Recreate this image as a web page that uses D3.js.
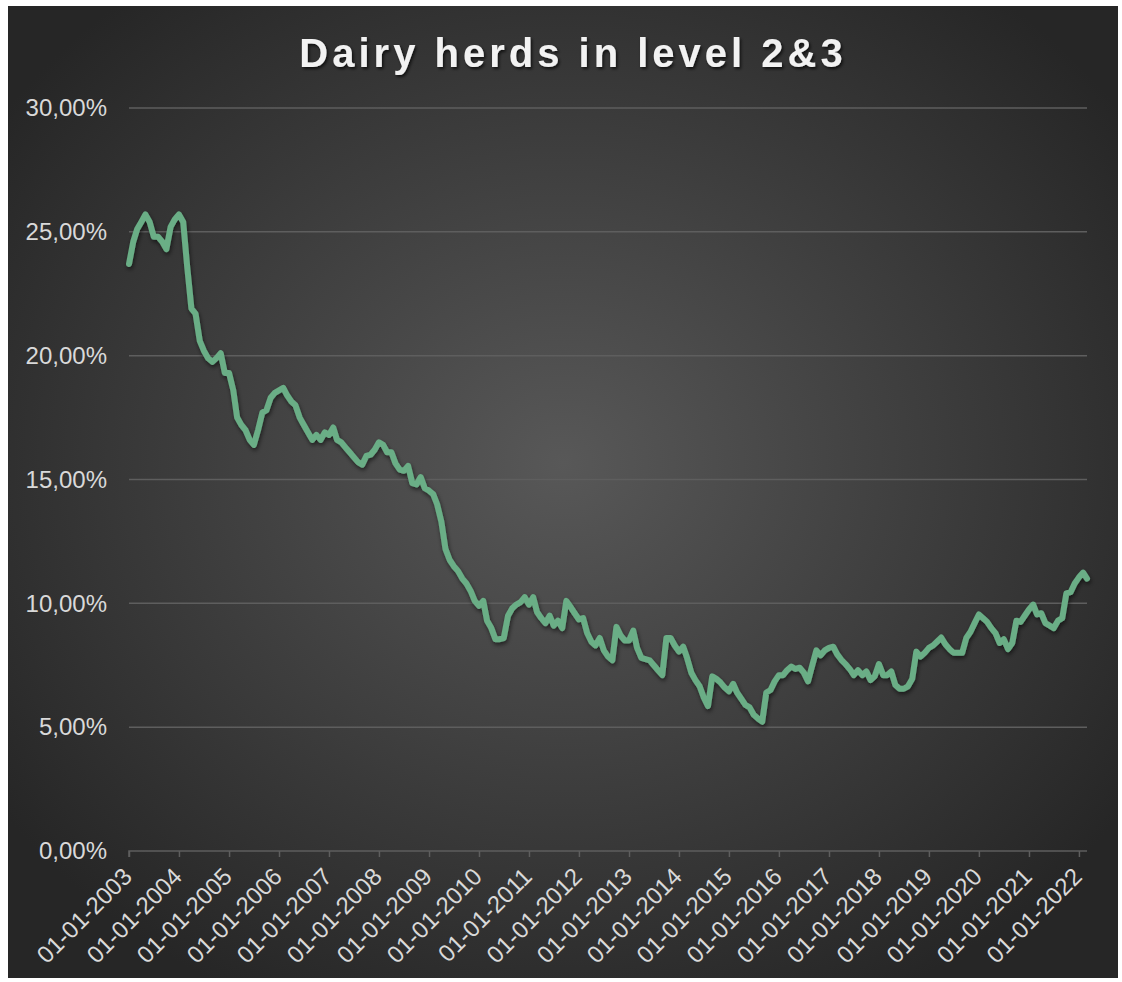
<!DOCTYPE html>
<html>
<head>
<meta charset="utf-8">
<script src="https://cdn.jsdelivr.net/npm/d3@7"></script>
<style>
  body { margin: 0; background: #ffffff; }
  svg { display: block; }
</style>
</head>
<body>
<div id="chart"></div>
<script>
const chartTitle = "Dairy herds in level 2&3";

// monthly share of herds in level 2&3 (%), first value = January 2003
const firstMonth = "2003-01-01";
const shareValues = [
  23.7, 24.6, 25.1, 25.4, 25.7, 25.4, 24.8, 24.8, 24.6, 24.3, 25.2, 25.5,   // 2003
  25.7, 25.4, 23.6, 21.9, 21.7, 20.6, 20.2, 19.9, 19.75, 19.9, 20.1, 19.3,  // 2004
  19.3, 18.6, 17.5, 17.2, 17.0, 16.6, 16.4, 17.0, 17.7, 17.8, 18.3, 18.5,   // 2005
  18.6, 18.7, 18.4, 18.15, 18.0, 17.5, 17.2, 16.9, 16.6, 16.8, 16.6, 16.9,  // 2006
  16.8, 17.1, 16.6, 16.5, 16.3, 16.1, 15.9, 15.7, 15.6, 15.95, 16.0, 16.2,  // 2007
  16.5, 16.4, 16.1, 16.1, 15.65, 15.4, 15.35, 15.55, 14.85, 14.8, 15.1, 14.65, // 2008
  14.55, 14.4, 14.0, 13.3, 12.2, 11.75, 11.5, 11.3, 11.0, 10.8, 10.5, 10.1, // 2009
  9.9, 10.1, 9.3, 9.0, 8.55, 8.55, 8.6, 9.5, 9.8, 9.95, 10.05, 10.25,       // 2010
  9.95, 10.25, 9.65, 9.4, 9.2, 9.5, 9.1, 9.3, 9.0, 10.1, 9.85, 9.6,         // 2011
  9.35, 9.4, 8.8, 8.45, 8.3, 8.6, 8.1, 7.85, 7.7, 9.05, 8.7, 8.5,           // 2012
  8.5, 8.9, 8.2, 7.8, 7.75, 7.7, 7.5, 7.3, 7.1, 8.6, 8.6, 8.3,              // 2013
  8.05, 8.25, 7.8, 7.2, 6.9, 6.65, 6.2, 5.85, 7.05, 6.95, 6.8, 6.6,         // 2014
  6.45, 6.75, 6.4, 6.15, 5.9, 5.8, 5.5, 5.35, 5.22, 6.4, 6.5, 6.85,         // 2015
  7.1, 7.1, 7.3, 7.45, 7.35, 7.4, 7.2, 6.85, 7.5, 8.1, 7.9, 8.1,            // 2016
  8.2, 8.25, 7.95, 7.72, 7.55, 7.35, 7.1, 7.3, 7.1, 7.25, 6.9, 7.05,        // 2017
  7.55, 7.1, 7.1, 7.25, 6.7, 6.55, 6.55, 6.65, 6.95, 8.05, 7.85, 8.0,       // 2018
  8.2, 8.3, 8.45, 8.62, 8.35, 8.15, 8.0, 8.0, 8.0, 8.6, 8.85, 9.2,          // 2019
  9.55, 9.4, 9.25, 9.0, 8.8, 8.4, 8.55, 8.15, 8.4, 9.3, 9.25, 9.5,          // 2020
  9.75, 9.95, 9.55, 9.6, 9.2, 9.1, 9.0, 9.3, 9.4, 10.4, 10.45, 10.8,        // 2021
  11.05, 11.24, 11.0                                                        // 2022
];

const yTicks = [0, 5, 10, 15, 20, 25, 30];
const xTickLabels = [
  "01-01-2003", "01-01-2004", "01-01-2005", "01-01-2006", "01-01-2007",
  "01-01-2008", "01-01-2009", "01-01-2010", "01-01-2011", "01-01-2012",
  "01-01-2013", "01-01-2014", "01-01-2015", "01-01-2016", "01-01-2017",
  "01-01-2018", "01-01-2019", "01-01-2020", "01-01-2021", "01-01-2022"
];

const width = 1122;
const height = 982;
const plot = { left: 129, right: 1087, top: 108, bottom: 851 };

const parseLabel = d3.timeParse("%d-%m-%Y");
const start = d3.timeParse("%Y-%m-%d")(firstMonth);
const data = shareValues.map((v, i) => ({ date: d3.timeMonth.offset(start, i), value: v }));

const svg = d3.select("#chart").append("svg")
  .attr("width", width)
  .attr("height", height);

const defs = svg.append("defs");

const grad = defs.append("radialGradient")
  .attr("id", "bg")
  .attr("cx", "50%").attr("cy", "47%").attr("r", "62%");
grad.append("stop").attr("offset", "0%").attr("stop-color", "#585858");
grad.append("stop").attr("offset", "100%").attr("stop-color", "#262626");

const lineShadow = defs.append("filter").attr("id", "lineShadow")
  .attr("x", "-5%").attr("y", "-5%").attr("width", "110%").attr("height", "110%");
lineShadow.append("feDropShadow")
  .attr("dx", 1).attr("dy", 2.5).attr("stdDeviation", 2)
  .attr("flood-color", "#000").attr("flood-opacity", 0.55);

const titleShadow = defs.append("filter").attr("id", "titleShadow");
titleShadow.append("feDropShadow")
  .attr("dx", 1.5).attr("dy", 2).attr("stdDeviation", 1.5)
  .attr("flood-color", "#000").attr("flood-opacity", 0.7);

svg.append("rect")
  .attr("x", 8).attr("y", 6)
  .attr("width", 1110).attr("height", 972)
  .attr("fill", "url(#bg)");

const x = d3.scaleTime()
  .domain([start, data[data.length - 1].date])
  .range([plot.left, plot.right]);

const y = d3.scaleLinear()
  .domain([0, 30])
  .range([plot.bottom, plot.top]);

// horizontal grid lines
svg.append("g")
  .selectAll("line")
  .data(yTicks.filter(t => t > 0))
  .enter()
  .append("line")
  .attr("x1", plot.left)
  .attr("x2", plot.right)
  .attr("y1", d => y(d))
  .attr("y2", d => y(d))
  .attr("stroke", "#5e5e5e")
  .attr("stroke-width", 1.5);

// y axis labels
const yAxis = d3.axisLeft(y)
  .tickValues(yTicks)
  .tickSize(0)
  .tickPadding(22)
  .tickFormat(d => d3.format(".2f")(d).replace(".", ",") + "%");

const yAxisG = svg.append("g")
  .attr("transform", `translate(${plot.left},0)`)
  .call(yAxis);
yAxisG.select(".domain").remove();
yAxisG.selectAll("text")
  .attr("fill", "#d9d9d9")
  .style("font-family", "'Liberation Sans', Arial, sans-serif")
  .style("font-size", "24px");

// x axis
const xAxis = d3.axisBottom(x)
  .tickValues(xTickLabels.map(parseLabel))
  .tickSize(6)
  .tickFormat(d3.timeFormat("%d-%m-%Y"));

const xAxisG = svg.append("g")
  .attr("transform", `translate(0,${plot.bottom})`)
  .call(xAxis);
xAxisG.select(".domain")
  .attr("stroke", "#5e5e5e")
  .attr("stroke-width", 1.5)
  .attr("d", `M${plot.left},6V0H${plot.right}`);
xAxisG.selectAll(".tick line")
  .attr("stroke", "#5e5e5e")
  .attr("stroke-width", 1.5);
xAxisG.selectAll("text")
  .attr("fill", "#d9d9d9")
  .style("font-family", "'Liberation Sans', Arial, sans-serif")
  .style("font-size", "24px")
  .attr("text-anchor", "end")
  .attr("dy", "0")
  .attr("y", 0)
  .attr("transform", "translate(4,27) rotate(-45)");

// the series line
const line = d3.line()
  .x(d => x(d.date))
  .y(d => y(d.value));

svg.append("path")
  .datum(data)
  .attr("d", line)
  .attr("fill", "none")
  .attr("stroke", "#6aae86")
  .attr("stroke-width", 6)
  .attr("stroke-linejoin", "round")
  .attr("stroke-linecap", "round")
  .attr("filter", "url(#lineShadow)");

// title
svg.append("text")
  .attr("x", 573)
  .attr("y", 67)
  .attr("text-anchor", "middle")
  .attr("fill", "#f2f2f2")
  .attr("filter", "url(#titleShadow)")
  .style("font-family", "'Liberation Sans', Arial, sans-serif")
  .style("font-weight", "bold")
  .style("font-size", "40px")
  .style("letter-spacing", "4px")
  .text(chartTitle);
</script>
</body>
</html>
